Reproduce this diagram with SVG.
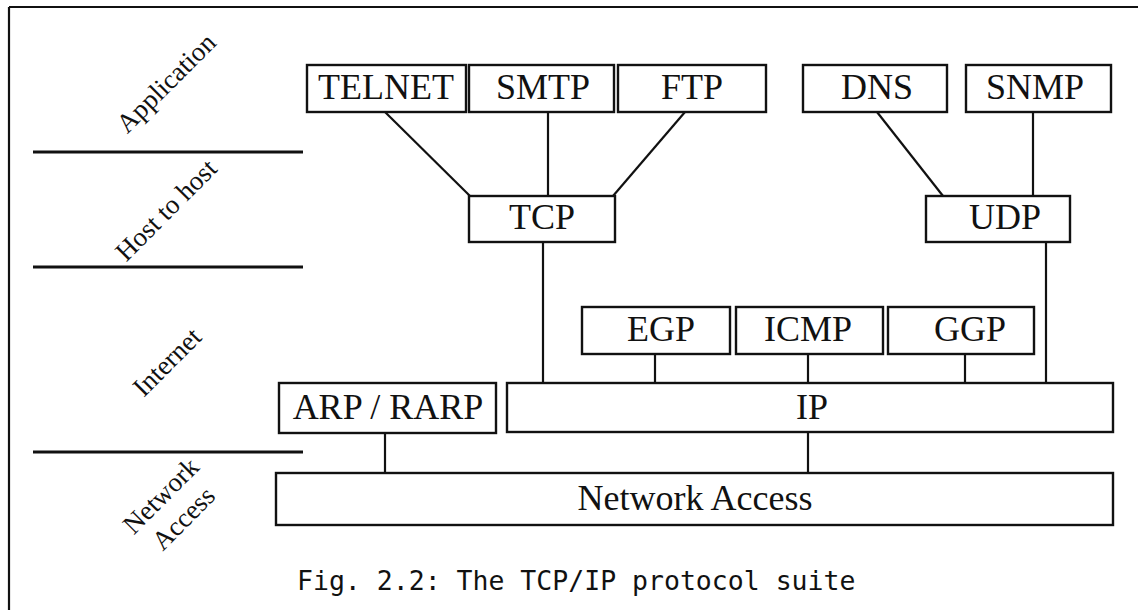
<svg xmlns="http://www.w3.org/2000/svg" width="1138" height="610" viewBox="0 0 1138 610">
<style>
.box{fill:#fff;stroke:#111;stroke-width:2.4}
.lbl{font-family:"Liberation Serif","Times New Roman",serif;font-size:36px;fill:#111;text-anchor:middle}
.layer{font-family:"Liberation Serif","Times New Roman",serif;font-size:27px;fill:#111;text-anchor:middle}
.cap{font-family:"DejaVu Sans Mono","Liberation Mono",monospace;font-size:26.5px;fill:#111}
.ln{stroke:#111;stroke-width:2.2;fill:none}
.div{stroke:#111;stroke-width:3}
</style>
<rect width="1138" height="610" fill="#fff"/>
<g id="frame">
<line x1="9" y1="7" x2="1138" y2="7" class="ln"/>
<line x1="9" y1="7" x2="9" y2="610" class="ln"/>
</g>
<g id="layers">
<line x1="33" y1="152" x2="303" y2="152" class="div"/>
<line x1="33" y1="267" x2="303" y2="267" class="div"/>
<line x1="33" y1="452" x2="303" y2="452" class="div"/>
<text class="layer" transform="translate(166,83) rotate(-45)" y="9">Application</text>
<text class="layer" transform="translate(166,210) rotate(-45)" y="9">Host to host</text>
<text class="layer" transform="translate(167,362) rotate(-45)" y="9">Internet</text>
<text class="layer" transform="translate(172,507) rotate(-45)"><tspan x="0" y="-7">Network</tspan><tspan x="0" y="25">Access</tspan></text>
</g>
<g id="connectors">
<line x1="385" y1="112" x2="470" y2="196" class="ln"/>
<line x1="548" y1="112" x2="548" y2="196" class="ln"/>
<line x1="685" y1="112" x2="613" y2="196" class="ln"/>
<line x1="877" y1="112" x2="943" y2="196" class="ln"/>
<line x1="1033" y1="112" x2="1033" y2="196" class="ln"/>
<line x1="543" y1="242" x2="543" y2="383" class="ln"/>
<line x1="1046" y1="242" x2="1046" y2="383" class="ln"/>
<line x1="655" y1="383" x2="655" y2="354" class="ln"/>
<line x1="808" y1="383" x2="808" y2="354" class="ln"/>
<line x1="965" y1="383" x2="965" y2="354" class="ln"/>
<line x1="385" y1="433" x2="385" y2="473" class="ln"/>
<line x1="808" y1="432" x2="808" y2="473" class="ln"/>
</g>
<g id="telnet"><rect class="box" x="307" y="65" width="159" height="47"/><text class="lbl" x="386" y="99">TELNET</text></g>
<g id="smtp"><rect class="box" x="469" y="65" width="145" height="47"/><text class="lbl" x="543" y="99">SMTP</text></g>
<g id="ftp"><rect class="box" x="618" y="65" width="148" height="47"/><text class="lbl" x="692" y="99">FTP</text></g>
<g id="dns"><rect class="box" x="803" y="65" width="144" height="47"/><text class="lbl" x="877" y="99">DNS</text></g>
<g id="snmp"><rect class="box" x="966" y="65" width="145" height="47"/><text class="lbl" x="1035" y="99">SNMP</text></g>
<g id="tcp"><rect class="box" x="469" y="196" width="146" height="46"/><text class="lbl" x="542" y="229">TCP</text></g>
<g id="udp"><rect class="box" x="926" y="196" width="144" height="46"/><text class="lbl" x="1005" y="229">UDP</text></g>
<g id="egp"><rect class="box" x="582" y="307" width="148" height="47"/><text class="lbl" x="661" y="341">EGP</text></g>
<g id="icmp"><rect class="box" x="736" y="307" width="147" height="47"/><text class="lbl" x="808" y="341">ICMP</text></g>
<g id="ggp"><rect class="box" x="888" y="307" width="146" height="47"/><text class="lbl" x="970" y="341">GGP</text></g>
<g id="arp"><rect class="box" x="279" y="383" width="217" height="50"/><text class="lbl" x="388" y="419">ARP / RARP</text></g>
<g id="ip"><rect class="box" x="507" y="383" width="606" height="49"/><text class="lbl" x="812" y="419">IP</text></g>
<g id="netaccess"><rect class="box" x="276" y="473" width="837" height="52"/><text class="lbl" x="695" y="510">Network Access</text></g>
<g id="caption"><text class="cap" x="297" y="590">Fig. 2.2: The TCP/IP protocol suite</text></g>
</svg>
